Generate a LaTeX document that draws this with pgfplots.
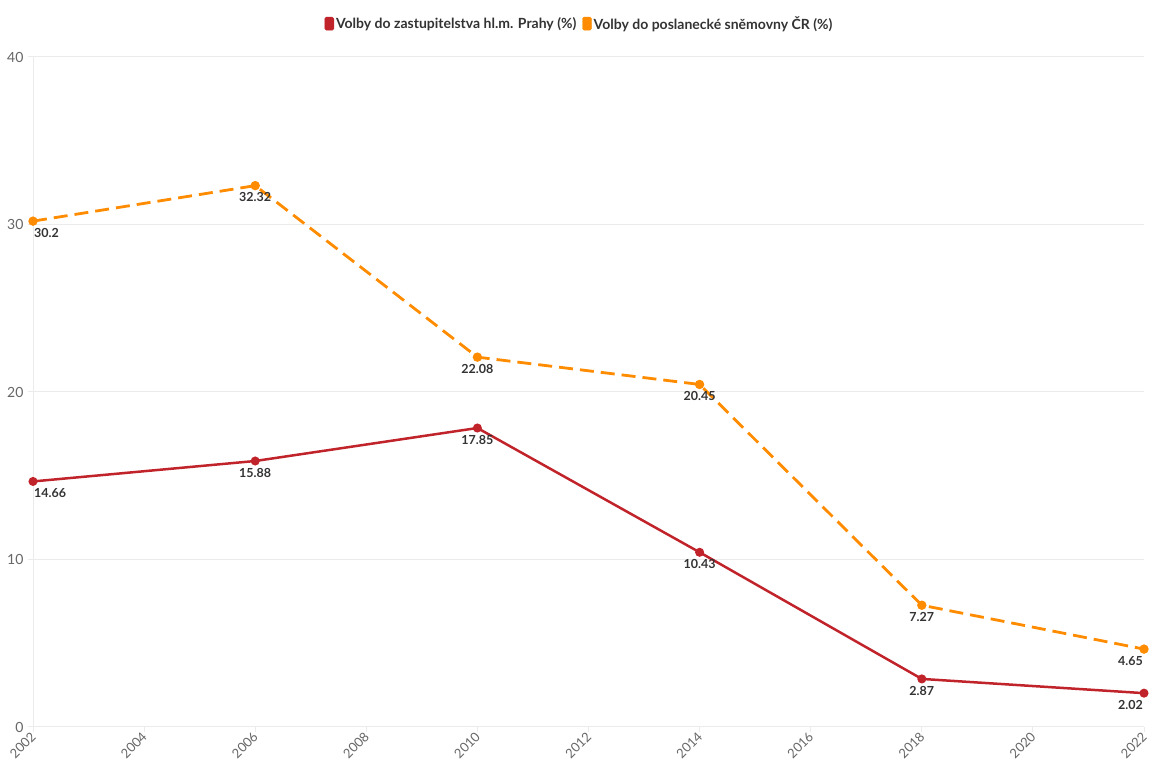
\documentclass[border=0pt]{standalone}
\usepackage{fontspec}
\setmainfont{Lato}
\usepackage{pgfplots}
\pgfplotsset{compat=1.18}
\definecolor{cred}{HTML}{C1232B}
\definecolor{corange}{HTML}{FF8C00}
\definecolor{cgrid}{HTML}{EBEBEB}
\definecolor{ctick}{HTML}{666666}
\definecolor{clab}{HTML}{333333}
\begin{document}
\begin{tikzpicture}[x=1pt,y=1pt]
\useasboundingbox (-33,-35) rectangle (1119,727);
\begin{axis}[
  scale only axis, width=1111pt, height=670pt,
  xmin=2002, xmax=2022, ymin=0, ymax=40,
  xtick={2002,2004,...,2022}, ytick={0,10,20,30,40},
  /pgf/number format/assume math mode=true,
  xticklabel style={rotate=45, anchor=east, font=\fontsize{13}{13}\selectfont, text=ctick, xshift=2pt, yshift=-2pt},
  yticklabel style={font=\fontsize{14}{14}\selectfont, text=ctick, xshift=-1pt},
  xticklabel={\pgfmathprintnumber[1000 sep={}]{\tick}},
  axis x line*=bottom, axis y line*=left,
  axis line style={draw=cgrid, line width=1pt},
  ymajorgrids, grid style={draw=cgrid, line width=1pt},
  major tick length=5pt, tick style={draw=cgrid, line width=1pt},
  xtick pos=bottom, ytick pos=left, tick align=outside,
  legend style={at={(0.5,1)}, anchor=south, yshift=22pt, xshift=-9pt, draw=none, fill=none,
    font=\fontsize{14}{14}\selectfont\bfseries\color{clab}, legend columns=2,
    /tikz/every even column/.append style={column sep=4pt}},
  legend cell align=left,
  clip=false,
]
\addlegendimage{legend image code/.code={\fill[cred, rounded corners=1.5pt] (0pt,-6.5pt) rectangle (9pt,6.5pt);}}
\addlegendentry{Volby do zastupitelstva hl.m. Prahy (\%)}
\addlegendimage{legend image code/.code={\fill[corange, rounded corners=1.5pt] (0pt,-6.5pt) rectangle (9pt,6.5pt);}}
\addlegendentry{Volby do poslanecké sněmovny ČR (\%)}
\addplot[forget plot, cred, line width=2.5pt, mark=*, mark size=3.2pt, mark options={solid}]
coordinates {(2002,14.66) (2006,15.88) (2010,17.85) (2014,10.43) (2018,2.87) (2022,2.02)};
\addplot[forget plot, corange, line width=2.8pt, dash pattern=on 14pt off 7pt, mark=*, mark size=3.2pt, mark options={solid}]
coordinates {(2002,30.2) (2006,32.32) (2010,22.08) (2014,20.45) (2018,7.27) (2022,4.65)};
% labels
\pgfplotsset{lbl/.style={draw=none, mark=none, forget plot, point meta=explicit symbolic, nodes near coords,
  every node near coord/.append style={font=\fontsize{12.5}{12.5}\selectfont\bfseries, text=clab, inner sep=1pt, yshift=-6pt}}}
\addplot[lbl, every node near coord/.append style={anchor=north west}] coordinates {(2002,14.66)[14.66] (2002,30.2)[30.2]};
\addplot[lbl, every node near coord/.append style={anchor=north}] coordinates {(2006,15.88)[15.88] (2010,17.85)[17.85] (2014,10.43)[10.43] (2018,2.87)[2.87] (2006,32.32)[32.32] (2010,22.08)[22.08] (2014,20.45)[20.45] (2018,7.27)[7.27]};
\addplot[lbl, every node near coord/.append style={anchor=north east}] coordinates {(2022,2.02)[2.02] (2022,4.65)[4.65]};
\end{axis}
\end{tikzpicture}
\end{document}
